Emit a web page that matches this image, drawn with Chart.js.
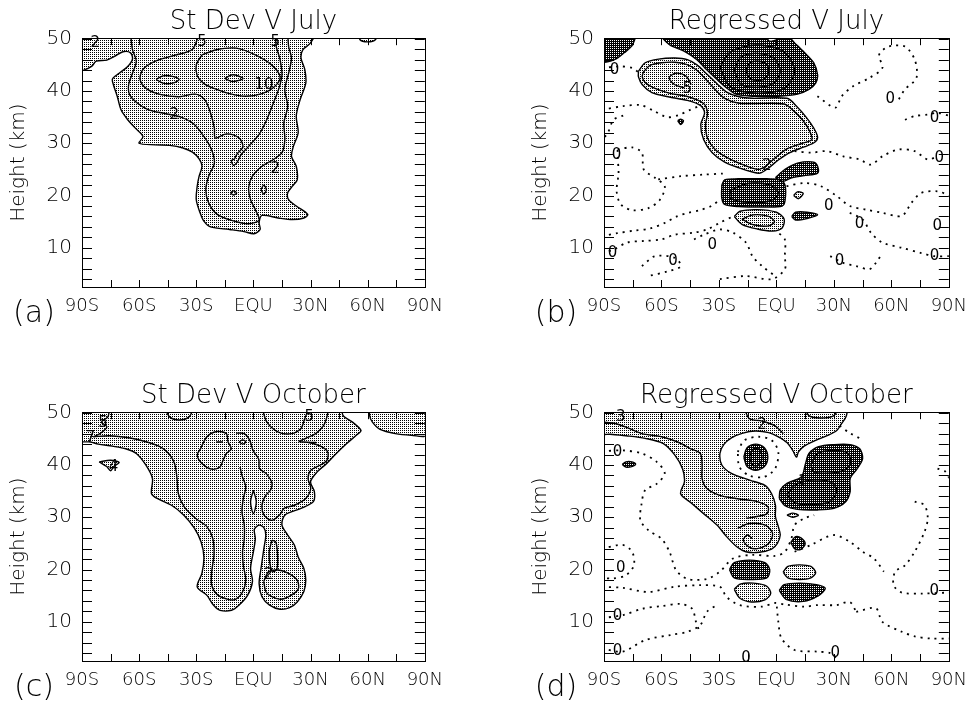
<!DOCTYPE html>
<html>
<head>
<meta charset="utf-8">
<script src="https://cdn.jsdelivr.net/npm/chart.js@4.4.0/dist/chart.umd.min.js"></script>
<style>
  body { margin: 0; background: #fff; width: 979px; height: 713px; overflow: hidden; position: relative; }
  canvas { position: absolute; }
</style>
</head>
<body>
<canvas id="pa" width="452" height="339" style="left:0;top:0"></canvas>
<canvas id="pb" width="454" height="339" style="left:522px;top:0"></canvas>
<canvas id="pc" width="452" height="339" style="left:0;top:374px"></canvas>
<canvas id="pd" width="454" height="339" style="left:522px;top:374px"></canvas>
<script>
// axes
const latTicks = [-90, -60, -30, 0, 30, 60, 90];
const latLabels = ['90S', '60S', '30S', 'EQU', '30N', '60N', '90N'];
const latMinor = [-90, -75, -60, -45, -30, -15, 0, 15, 30, 45, 60, 75, 90];
const heightTicks = [10, 20, 30, 40, 50];
const heightMinor = [4, 6, 8, 10, 12, 14, 16, 18, 20, 22, 24, 26, 28, 30, 32, 34, 36, 38, 40, 42, 44, 46, 48, 50];

// contours are [latitude, height km]
// (a) St Dev V July
const aFill = [[-91,52],[33,52],[30,49.2],[26,47.9],[25,46.3],[27,44.1],[27.5,41.5],[24.5,38.3],[22.5,35.2],[23.5,32],[21,29.4],[20,27.5],[22.5,25.6],[23,23],[20.5,21.8],[18,20.5],[18.5,19.2],[22.5,18],[28.5,16.4],[26.5,15.7],[20.5,15.4],[13,15.7],[4.5,16.2],[3,14.8],[3.5,13.5],[0.3,12.7],[-5,13.1],[-12.5,13.5],[-22.5,14],[-26,15.1],[-28,16.7],[-30,19.2],[-29.5,21.8],[-28.5,23.7],[-27,25.6],[-28.5,27],[-32,28.3],[-37,29.1],[-44,29.6],[-51.5,29.7],[-60,30],[-58,31.3],[-62,32.9],[-66,34.5],[-69.5,36.4],[-71.5,39],[-73.5,41.2],[-74,42.3],[-70.5,43.4],[-66,44.7],[-63.5,46.1],[-64.5,47.3],[-68.5,47.5],[-73,46.6],[-77,45.9],[-82.5,45.7],[-85,44.7],[-89,44],[-91,44],[-91,52]];
const aFillTop = [[55,52],[66,52],[64,49.8],[60,49.4],[56,49.8],[55,52]];
const aLine2 = [[-64.5,51],[-63.5,47.9],[-61.5,45.7],[-63.5,43.4],[-65.5,41.2],[-65,39.3],[-61,37.7],[-55,36.4],[-46.5,35.7],[-38,35],[-31,33.6],[-26,31.3],[-22,28.8],[-20.5,26.2],[-23.5,23.7],[-25,21.1],[-23.5,18.6],[-19,16.4],[-11,15.2],[-2.5,14.6],[3,15.3],[1,17.3],[-1.5,19.2],[-2.5,21.5],[-0.5,23.7],[4.5,25.6],[10.5,26.9],[15,28.2],[16.5,30.7],[16,33.9],[18,37.1],[16.5,40.3],[18.5,43.4],[20,46.3],[18.5,48.5],[18,51]];
const aLine5 = [[-28.5,51],[-32,48],[-41.5,46.8],[-51.5,45.7],[-58,44.1],[-59.5,42.2],[-56,40.4],[-48.5,39.3],[-39,38.9],[-30.5,39.4],[-25.5,38.3],[-22.5,35.8],[-20.5,32.9],[-20,31],[-14,31.8],[-7.5,31],[-5.5,29.3],[-8.5,28],[-10,27],[-11.5,26.7],[-10.5,25.8],[-8.5,26.4],[-6.5,27.8],[-2.5,29.4],[3,31.7],[7,34.5],[10.5,37.7],[13.5,40.6],[15,43.1],[14,46],[12,48.5],[11.5,51]];
const aLine10 = [[-27,46.9],[-19.5,47.9],[-9,48.2],[1,46.9],[9.5,45],[14,42.7],[11,40.8],[4.5,39.5],[-4,39],[-12.5,39.5],[-20,40.4],[-26,41.4],[-29.5,42.9],[-30,45],[-27,46.9]];
const aEyeWest = [[-51,42.2],[-47.5,42.9],[-42.5,42.8],[-39,42.2],[-42.5,41.5],[-47.5,41.5],[-51,42.2]];
const aEyeEast = [[-15,42.4],[-11,43.1],[-5.5,42.4],[-11,41.8],[-15,42.4]];
const aLoop20 = [[-12,20.5],[-10.5,20.9],[-8.8,20.5],[-10.5,20.1],[-12,20.5]];
const aLoop21 = [[4,21.1],[5.4,22],[6.8,21.1],[5.4,20.3],[4,21.1]];
const aText = [[-83,49.2,'2'],[-27,49.3,'5'],[11.5,49.3,'5'],[5.5,41.2,'10'],[-41.5,35.4,'2'],[11.5,25,'2']];

// (b) Regressed V July
const bDarkCorner = [[-91,52],[-73.5,52],[-75,48.9],[-79.5,47.3],[-84.5,46],[-91,45.7],[-91,52]];
const bDarkTop = [[-64,52],[-6.5,52],[-4,49.6],[1,49.9],[4.5,51],[9.5,49.2],[14.5,47.4],[19.5,45.4],[21.5,43.1],[20.5,41.5],[17,40.3],[11,39.4],[1,39],[-12.5,39],[-21,39.4],[-26,40.6],[-31,42.2],[-36.5,44.1],[-41.5,46],[-48,47.6],[-56,48.9],[-64,52]];
const bRing1 = [[-29.5,44.5],[-24,47.5],[-10,48.8],[4,47.5],[9.5,43.8],[4,40.5],[-10,39.6],[-24,40.8],[-29.5,44.5]];
const bRing2 = [[-22,44],[-18.5,46.5],[-10,47.2],[-1.5,46.3],[2,43.8],[-1.5,41.5],[-10,40.7],[-18.5,41.3],[-22,44]];
const bRing3 = [[-16,43.8],[-14,45.3],[-10,45.7],[-5,45.1],[-4,43.6],[-6,42.4],[-10,42],[-14,42.5],[-16,43.8]];
const bLight = [[-72,43.8],[-68.5,45.4],[-61.5,46.1],[-53,46.3],[-46.5,46],[-41.5,45],[-36.5,43.3],[-31,41.4],[-26,39.8],[-19.5,38.9],[-12.5,38.6],[5.5,38.6],[10.5,37.1],[15.5,35],[19.5,32.9],[21.5,31.2],[20,30.2],[14.5,29.3],[7,28.2],[1,26.8],[-4,25.3],[-8.5,24.3],[-12.5,24.5],[-19.5,25.3],[-27,26.4],[-33.5,28.2],[-38,30.7],[-39.5,33.6],[-37.5,35.8],[-39.5,37.2],[-46.5,38.2],[-56.5,38.9],[-65,39.7],[-70,41.2],[-72,42.7],[-72,43.8]];
const bLightLine = [[-69.5,43.6],[-66,44.9],[-60,45.4],[-53,45.5],[-47,45.1],[-42,44.1],[-37,42.3],[-32,40.3],[-27,38.6],[-20,37.7],[-12,37.6],[4,37.5],[9,36.2],[14,34.3],[17.5,32.2],[18.5,30.7],[13.5,30],[6,29],[0,27.4],[-5,25.8],[-9,25],[-13,25.3],[-19.5,26.2],[-26,27.3],[-32,28.8],[-36,31],[-37,33.6],[-36,35.8],[-38,37.6],[-46,38.9],[-56,39.6],[-64,40.6],[-68.5,41.6],[-70,42.7],[-69.5,43.6]];
const bLight5 = [[-44.5,41.2],[-47,42.8],[-52.5,43.4],[-56,42.5],[-53,41.2],[-48,40.6]];
const bDarkMid = [[-28.5,22],[-27,23],[-20,23.2],[-5,23.2],[2,23],[4.5,22],[4.5,19],[3,18],[-5,17.8],[-20,17.9],[-27,18.3],[-28.5,19.5],[-28.5,22]];
const bDarkMid2 = [[-0.5,23.4],[4.5,25],[11,26.2],[19.5,26.4],[21.5,25.6],[21.5,24.3],[14.5,23.8],[8,23.4],[3.5,22.7],[-0.5,23.4]];
const bDarkMidLine = [[-24,21],[-15,22.3],[-3,22],[1,20.5],[-3,19],[-15,18.7],[-24,19.5],[-24,21]];
const bLightLow = [[-22,16],[-19,17],[-10,17.3],[0,16.8],[4,15.5],[3,13.8],[-2,13.2],[-10,13.6],[-18,14.5],[-22,16]];
const bLightLowLine = [[-18,15.5],[-12,16.3],[-4,16],[-1,15],[-4,14.2],[-12,14.4],[-18,15.5]];
const bDarkSmall = [[8,16],[10,16.8],[16,16.8],[21.5,16.3],[16,15.6],[10,15.3],[8,16]];
const bLightSmall = [[9,20],[11,20.7],[14,20.4],[11.5,19.4],[9,20]];
const bDarkDot = [[-51.5,34.3],[-50,34.6],[-48.5,34.3],[-50,33.6],[-51.5,34.3]];
const bZero = [
  [[-91,44.4],[-82,44.7],[-75.3,44.4],[-71.5,43.4]],
  [[-91,36.4],[-80,37.1],[-71,37.3],[-64,36.2],[-57,35],[-51,35.4],[-45,36.4],[-41,37]],
  [[-80,35.3],[-85,34.5],[-88,32],[-91,30.7]],
  [[-82.9,28.8],[-75.3,29.2],[-70.2,28.2],[-69.3,25],[-63.4,23.4],[-58.3,21.8],[-60.8,19.2],[-66.8,17.6],[-75.3,17.2],[-81.2,18.3],[-83.4,20.8],[-82.4,24.3],[-82.9,27.5],[-82.9,28.8]],
  [[-91,12.2],[-83,12.8],[-74,13.3],[-66,13.7],[-58,14.8],[-52,16],[-46,16.7],[-40,17.2],[-34,18],[-29.5,19.2]],
  [[-61.7,23.1],[-49.8,23.7],[-38,24],[-28,24.2]],
  [[-91,9],[-84.7,9.7],[-78,11],[-69.5,11.3],[-60,11.6],[-53.2,12.5],[-43,12.9],[-36.3,13.5],[-29.5,14.8],[-22.7,16]],
  [[-70.2,6.5],[-63.4,8.4],[-53.2,8.1],[-49.8,6.5],[-56.6,5.5],[-66.8,4.6]],
  [[-43,11.6],[-38,12.5],[-29.5,13.5],[-22.7,12.9],[-15.9,11],[-12.5,8.4],[-7.5,6.5],[-0.7,4.6]],
  [[21.4,39],[30.7,36.8],[34.1,39],[40,40.9],[48.5,42.5],[55.3,44.4],[53.6,46.9],[58.6,48.5],[67.1,48.5],[72.2,46],[73.1,42.5],[67.1,40.3],[63.7,38.3]],
  [[9.5,28.5],[18,28.2],[26.4,28.5],[34.9,27.5],[43.4,26.9],[49.3,25.9],[55.3,27.5],[63.7,28.8],[72.2,28.5],[79,26.9],[84.1,27.5]],
  [[67.1,34.5],[72.2,35.2],[79,35.5],[84.1,35.8],[91,35.2]],
  [[5.3,21.8],[14.6,22.4],[23.1,21.8],[31.5,19.9],[38.3,18],[46.8,17.3],[55.3,16.7],[65.4,16.1],[70.5,18.6],[75.6,20.5],[84.1,20.8],[91,19.9]],
  [[38.3,16.7],[45.1,15.4],[49.3,12.9],[55.3,11],[65.4,10],[75.6,9],[82.4,8.4],[91,8.4]],
  [[28.1,8.4],[34.9,7.1],[41.7,6.5],[48.5,5.9],[51.9,7.1],[55.3,9]],
  [[-29.5,4],[-15.9,4.6],[-2.4,4],[4.4,5.9],[4.4,8.4],[4.4,11.6],[1,12.9]]
];
const bText = [[-46.5,40.3,'5'],[-84.5,44,'0'],[-83.5,27.8,'0'],[-85.5,9,'0'],[-54,7.5,'0'],[-33.5,10.6,'0'],[27.3,18,'0'],[43.4,14.6,'0'],[33,7.5,'0'],[59.5,38.5,'0'],[82.5,34.8,'0'],[85,27.2,'0'],[84,14.1,'0'],[82.5,8.4,'0'],[-5,25.6,'2']];

// (c) St Dev V October
const cFill = [[-91,52],[45.5,52],[47,49.5],[52,48.2],[56.5,46.6],[54,45.7],[49,44.1],[43.5,42.2],[38.5,40.3],[33.5,38.7],[30,36.8],[32,34.9],[31.5,33],[25,31.7],[16.5,30.4],[15,28.5],[18,26.6],[21.5,24.7],[23.5,22.4],[26.5,20.2],[27.5,18],[26.5,15.8],[23,13.8],[19,12.7],[14,12.4],[8.5,13.2],[4.5,14.8],[3,17.3],[4,20.2],[5.5,24],[6.5,26.6],[5.5,28],[3,28.5],[0.5,27.7],[1,25.9],[0,23.4],[-1.5,20.2],[-0.5,17.7],[-3,15.1],[-7.5,13.2],[-11.5,12.2],[-17.5,12.2],[-21,13.2],[-24.5,15.1],[-29.5,16.7],[-27,19.3],[-26,22.4],[-27.5,25.3],[-31,27.9],[-36.5,30.4],[-43,32.3],[-50,33.5],[-53.5,34.5],[-53,37.4],[-56.5,40],[-61.5,42.2],[-67,43.1],[-74,43.6],[-81.5,44],[-85.5,44.4],[-91,44.7],[-91,52]];
const cFillNE = [[61,52],[91,52],[91,45.7],[83,45.7],[74.5,46],[66.5,46.8],[62.5,48.2],[61,49.5],[61,52]];
const cFeather = [[-81,40.6],[-75,40.9],[-70.5,40.5],[-73,39.8],[-75,38.9],[-77,39.7],[-81,40.6]];
const cHole = [[0,35.2],[1.5,32.9],[0,30.7],[-1.5,32.9],[0,35.2]];
const cLineS = [[-75.5,51],[-76.4,49.2],[-79.8,48.2],[-76.9,47.3],[-80.6,46],[-84,45.4]];
const cLine1 = [[-84,45.4],[-75.5,45.6],[-65.3,45.2],[-55.9,44.4],[-49.1,43.5],[-44.5,42.2],[-41.4,40.3],[-40.1,37.4],[-39.4,34.5],[-36.3,32],[-30.4,29.8],[-24.4,28.2],[-21.3,25.9],[-20.7,22.8],[-21.9,19.6],[-21.9,17],[-19,15.2],[-13.3,14.3],[-9.4,14.3],[-5.7,15.7],[-4,18],[-5.3,20.8],[-5.7,23.4],[-4.8,25.9],[-4.8,28.5],[-6,31],[-5.3,33.6],[-4,35.8],[-6,38],[-7,39.6]];
const cLine2 = [[-9.1,46.1],[-4.8,46],[-1.9,44.7],[-0.2,42.8],[2.8,41.1],[3.2,39.3],[6.6,38.4],[9.7,36.6],[9,35.2],[6.3,34.1],[4.5,32.3],[5.6,30.4],[9.7,29.4],[13.9,30.5],[16.1,31.7],[21.6,32.3],[27.5,33.6],[30.1,35.5],[28.7,37.4],[30.1,39],[35.2,40],[38.6,40.9],[39,42.5],[35.2,43.6],[29.3,44.3],[24.1,44.5],[27.5,45.1],[32.7,46],[36.9,47.6],[38.6,49.2],[39.5,51]];
const cTongue = [[9.7,25.6],[11.7,25.3],[12.7,22.8],[12.4,20.2],[10.5,19.6],[8.8,20.8],[8.3,23.4],[9.7,25.6]];
const cLoopSE = [[5.4,17.7],[8,19.6],[13.1,19.9],[18.2,19.3],[22.9,18],[23.6,16.3],[19.5,15],[14.4,14.3],[9.7,14.8],[6.6,15.7],[5.4,17.7]];
const cLobe = [[-27.8,43.1],[-24.4,45.4],[-19.3,46.4],[-14.2,46],[-13.3,44.4],[-11.6,43.1],[-14.2,42.2],[-15.9,40.9],[-17.6,39.6],[-21.9,39.2],[-27,40.3],[-29.5,41.9],[-27.8,43.1]];
const cCupWest = [[-46.6,51],[-44,49.2],[-38.9,48.6],[-33.8,49.2],[-31.2,51]];
const cCupEast = [[4.5,51],[7.1,48.2],[13.1,46.3],[19.9,46],[25,47],[26.7,48.6],[29.2,51]];
const cDash1 = [[-19.5,44.4],[-16,44.4]];
const cDash2 = [[-7.5,44.4],[-5.7,44.8],[-4,44.4],[-5.7,44],[-7.5,44.4]];
const cDash3 = [[29,44.3],[33,44.3]];
const cText = [[-79,48,'5'],[-85.5,45.2,'7'],[-73.5,39.6,'4'],[29.3,49.1,'5'],[8,19,'2']];

// (d) Regressed V October
const dLight = [[-91,52],[36.5,52],[36.5,49.4],[34,47.9],[31.5,46.6],[26.5,45.6],[20.5,44.7],[14.5,43.6],[11.5,42.5],[10.5,41.5],[8.5,42.8],[5.5,44.3],[1,45.4],[-4,46.2],[-11,46.5],[-17.5,46.1],[-23.5,45.2],[-27.5,43.9],[-29.5,42.2],[-28.5,40],[-23.5,38.4],[-14,37.1],[-6,36.1],[-2.5,34.5],[-0.5,32.3],[-0.5,30.1],[1,28.2],[2,26.6],[0.5,25],[-2.5,23.9],[-9,23.3],[-16,23.4],[-20.5,24.3],[-26,26.3],[-31,28.5],[-38,30.7],[-44,32.6],[-50,34.5],[-48,36.8],[-49,39.3],[-53,41.9],[-59,44.1],[-68.5,45.1],[-78.5,45.6],[-87,45.9],[-91,46],[-91,52]];
const dLine1 = [[-91,48.2],[-83.7,47.9],[-76.9,47],[-70.2,46],[-60,45.4],[-51.5,44.4],[-44.7,43.1],[-39.7,42.2],[-38.8,40],[-38.8,37.4],[-36.3,35.5],[-29.5,34.2],[-19.3,33.5],[-10,33],[-4.4,32],[-4.9,30.7],[-10.8,30.1],[-15.9,29.8]];
const dLobeLine = [[-20.2,27.9],[-14.2,28.8],[-5.8,28.5],[-2,26.9],[-4.1,25],[-10,24],[-14.2,24.3],[-17.3,25.6],[-15.1,26.6],[-12.5,25.9]];
const dTop2 = [[-16.8,51],[-14.2,48.9],[-7.5,48.4],[-0.7,47.5],[3.6,46]];
const dTopCup = [[14.6,51],[17.1,49.4],[23.1,49],[29.8,49.4],[32.9,51]];
const dCircle = [[-17,41.5],[-15.3,43.3],[-10.8,44],[-6.3,43.3],[-4.5,41.5],[-6.3,39.7],[-10.8,39],[-15.3,39.7],[-17,41.5]];
const dCircleIn = [[-14,41.5],[-12.8,42.8],[-10.8,43.2],[-8.6,42.8],[-7.6,41.5],[-8.6,40.2],[-10.8,39.8],[-12.8,40.2],[-14,41.5]];
const dDarkEast = [[1.5,33.6],[2,35.2],[5.5,36.5],[13,37.7],[15,40],[17,42.2],[22,43.5],[30,43.9],[38.5,43.9],[43.5,43.1],[45,41.2],[42,39.2],[38.5,37.4],[38.5,34.9],[36,32.9],[30,31.7],[21.5,31.4],[11,31.5],[4.5,32.2],[1.5,33.6]];
const dEastIn1 = [[18,40],[21.5,42.2],[30,42.8],[37.5,42.2],[38.5,40],[33,38.7],[24.5,38.4],[19.5,38.7],[18,40]];
const dEastIn2 = [[5.5,34.2],[9.5,36.1],[18,37.1],[28,36.8],[31.5,35.2],[28,33],[18,32.4],[9.5,32.8],[5.5,34.2]];
const dDarkWest = [[-80.5,40.1],[-78.5,40.6],[-75.5,40.6],[-73.5,40.2],[-75.5,39.7],[-78.5,39.6],[-80.5,40.1]];
const dLightTiny = [[5.5,30.4],[8.5,30.8],[11.5,30.4],[8.5,30],[5.5,30.4]];
const dDarkDiamond = [[7.5,25.2],[10,26.3],[13,26],[15,24.9],[12.5,23.8],[9.5,24],[7.5,25.2]];
const dDarkSW = [[-24.5,20],[-22,21.3],[-14,21.8],[-6,21.3],[-3.5,20],[-5,18.4],[-14,18.1],[-22,18.4],[-24.5,20]];
const dLightSW = [[-22,16.2],[-19,17.2],[-12,17.4],[-5,16.8],[-3,15.4],[-6,14.2],[-13,13.8],[-19,14.5],[-22,16.2]];
const dLightSE = [[3.5,19.5],[6,20.6],[12,20.9],[18,20.6],[20.5,19.4],[18,18.4],[12,18.1],[6,18.4],[3.5,19.5]];
const dDarkSE = [[1.5,16],[4,17.1],[12,17.4],[21,17.1],[25.5,16.4],[22,15],[14,13.9],[5,14.3],[1.5,16]];
const dZero = [
  [[-20.2,42.5],[-16.8,44.7],[-9.2,45.4],[-2.4,44.7],[1,42.5],[-0.7,39.3],[-6.6,37.7],[-14.2,38],[-19.3,39.6],[-20.2,42.5]],
  [[-91,42.6],[-80.3,42.8],[-70.2,42.2],[-62.5,40.6],[-58.3,38.4],[-62.5,36.4],[-68.5,35.2],[-70.5,32.3],[-71,29.4],[-66.8,27.5],[-60,25.9],[-55.8,23.4],[-52.4,19.9],[-46.4,18.2],[-36.3,18.2],[-29.5,19.6],[-22.7,22.1],[-12.5,22.8],[-0.7,22.6],[4.4,23.4],[7.8,25.9],[9.5,28.5],[14.6,29.8],[19.7,30.4]],
  [[9.5,23.4],[18,24.7],[29.8,26.6],[38.3,25.3],[45.1,23.4],[51,22.1],[56.1,19.6]],
  [[72.2,33],[77.3,32.3],[79,29.8],[77.3,27.2],[72.2,23.4],[67.1,20.8],[62,19.6],[61.2,17],[65.4,15.6],[75.6,15.4],[90,15.6]],
  [[84.1,39.3],[88.3,38.7],[91,36.8]],
  [[-91,24],[-80.3,24.7],[-75.3,23.4],[-74.4,20.8],[-78.6,18.9],[-85.4,18.3],[-91,18.4]],
  [[-91,16.7],[-80.3,16.5],[-66.8,15.7],[-53.2,16.7],[-39.7,17],[-29.5,16.7],[-26.1,14.8],[-19.3,13.2],[-7.5,12.9],[-0.7,13.6],[4.4,13.3],[14.6,12.9],[21.4,13.2],[31.5,13.2],[38.3,13.8],[41.7,11.9]],
  [[-91,10.7],[-80,11.3],[-70,12.5],[-60,13],[-50,13.4],[-44,12.5],[-42,10],[-40,8]],
  [[-91,4.9],[-80.3,4.3],[-68.5,6.5],[-54.9,7.5],[-46.4,8.1],[-39.7,9.4],[-36.3,11.9],[-31.2,13.2]],
  [[0.2,12.9],[1,10],[2.7,6.8],[9.5,4.6],[21.4,4.3],[28.1,4],[31.5,3]],
  [[41.7,11.9],[51.9,12.6],[55.3,10],[65.4,8.1],[72.2,7.2],[80.7,6.8],[90,6.8]],
  [[33,47.5],[38,46.2],[44,45]]
];
const dText = [[-82.9,42.5,'0'],[-81.2,20.2,'0'],[-82.9,11,'0'],[-82.9,4.3,'0'],[-15.9,3,'0'],[30.7,4,'0'],[82.4,15.8,'0'],[-7.5,47.6,'2'],[13.7,36.8,'1'],[-81.2,49.2,'3']];

const FONT = "'DejaVu Sans', sans-serif";
Chart.defaults.font.family = FONT;
Chart.defaults.color = '#000';

function stipple(dark) {
  const c = document.createElement('canvas');
  c.width = 2; c.height = 2;
  const g = c.getContext('2d');
  g.fillStyle = dark ? '#000' : '#fff';
  g.fillRect(0, 0, 2, 2);
  g.fillStyle = dark ? '#fff' : '#000';
  g.fillRect(0, 0, 1, 1);
  return g.createPattern(c, 'repeat');
}
const LIGHT = stipple(false);
const DARK = stipple(true);

const pts = arr => arr.map(([x, y]) => ({ x, y }));
function area(arr, bg) {
  return { data: pts(arr), showLine: true, fill: 'shape', backgroundColor: bg, borderColor: '#000',
    borderWidth: 1.4, pointRadius: 0, pointHoverRadius: 0, tension: 0.3, clip: 0 };
}
function line(arr) {
  return { data: pts(arr), showLine: true, fill: false, borderColor: '#000',
    borderWidth: 1.4, pointRadius: 0, pointHoverRadius: 0, tension: 0.3, clip: 0 };
}
function zero(arr) {
  const d = line(arr);
  d.borderDash = [2, 5];
  d.borderWidth = 1.8;
  return d;
}

// frame, inward ticks, contour labels and panel letter
function decor(tag, texts) {
  return {
    id: 'decor',
    afterDatasetsDraw(chart) {
      const { ctx, chartArea: a, scales: { x, y } } = chart;
      ctx.save();
      ctx.strokeStyle = '#000';
      ctx.lineWidth = 1;
      ctx.strokeRect(Math.round(a.left) + 0.5, Math.round(a.top) + 0.5, Math.round(a.right - a.left), Math.round(a.bottom - a.top));
      ctx.beginPath();
      latMinor.forEach(v => {
        const px = Math.round(x.getPixelForValue(v)) + 0.5;
        ctx.moveTo(px, a.bottom); ctx.lineTo(px, a.bottom - 7);
        ctx.moveTo(px, a.top); ctx.lineTo(px, a.top + 7);
      });
      heightMinor.forEach(v => {
        const py = Math.round(y.getPixelForValue(v)) + 0.5;
        ctx.moveTo(a.left, py); ctx.lineTo(a.left + 10, py);
        ctx.moveTo(a.right, py); ctx.lineTo(a.right - 10, py);
      });
      ctx.stroke();
      ctx.fillStyle = '#000';
      ctx.textAlign = 'center';
      ctx.textBaseline = 'middle';
      ctx.font = '15px ' + FONT;
      texts.forEach(([lat, h, s]) => ctx.fillText(s, x.getPixelForValue(lat), y.getPixelForValue(h)));
      ctx.font = '200 30px ' + FONT;
      ctx.fillText(tag, a.left - 48, a.bottom + 27);
      ctx.restore();
    }
  };
}

function panel(id, title, tag, sets, texts) {
  sets.forEach((d, i) => { d.order = -i; });
  return new Chart(document.getElementById(id), {
    type: 'scatter',
    data: { datasets: sets },
    options: {
      responsive: false,
      animation: false,
      events: [],
      layout: { padding: { left: 0, right: 18, top: 0, bottom: 0 } },
      plugins: {
        legend: { display: false },
        tooltip: { enabled: false },
        title: { display: true, text: title, fullSize: false, color: '#000',
          font: { family: FONT, size: 26, weight: '200' }, padding: { top: 7, bottom: 0 } }
      },
      scales: {
        x: {
          type: 'linear', min: -90, max: 90,
          grid: { display: false, drawTicks: false }, border: { display: false },
          afterBuildTicks: s => { s.ticks = latTicks.map(v => ({ value: v })); },
          afterFit: s => { s.height = 52; },
          ticks: { callback: v => latLabels[latTicks.indexOf(v)], autoSkip: false, maxRotation: 0,
            padding: 9, font: { family: FONT, size: 18, weight: '200' } }
        },
        y: {
          type: 'linear', min: 2.5, max: 50.1,
          grid: { display: false, drawTicks: false }, border: { display: false },
          afterBuildTicks: s => { s.ticks = heightTicks.map(v => ({ value: v })); },
          afterFit: s => { s.width = 82; },
          ticks: { padding: 10, font: { family: FONT, size: 20, weight: '200' } },
          title: { display: true, text: 'Height (km)', font: { family: FONT, size: 20, weight: '200' },
            padding: { top: 7, bottom: 0 } }
        }
      }
    },
    plugins: [decor(tag, texts)]
  });
}

panel('pa', 'St Dev V July', '(a)', [
  area(aFill, LIGHT), area(aFillTop, LIGHT),
  line(aLine2), line(aLine5), line(aLine10), line(aEyeWest), line(aEyeEast), line(aLoop20), line(aLoop21)
], aText);

panel('pb', 'Regressed V July', '(b)', [
  area(bLight, LIGHT), line(bLightLine), line(bLight5),
  area(bDarkCorner, DARK), area(bDarkTop, DARK), line(bRing1), line(bRing2), line(bRing3),
  area(bDarkMid, DARK), area(bDarkMid2, DARK), line(bDarkMidLine),
  area(bLightLow, LIGHT), line(bLightLowLine), area(bDarkSmall, DARK), area(bLightSmall, LIGHT), area(bDarkDot, DARK),
  ...bZero.map(zero)
], bText);

panel('pc', 'St Dev V October', '(c)', [
  area(cFill, LIGHT), area(cFillNE, LIGHT), area(cFeather, LIGHT), area(cHole, '#fff'),
  line(cLineS), line(cLine1), line(cLine2), line(cTongue), line(cLoopSE), line(cLobe),
  line(cCupWest), line(cCupEast), line(cDash1), line(cDash2), line(cDash3)
], cText);

panel('pd', 'Regressed V October', '(d)', [
  area(dLight, LIGHT), line(dLine1), line(dLobeLine), line(dTop2), line(dTopCup),
  area(dCircle, DARK), line(dCircleIn), area(dDarkEast, DARK), line(dEastIn1), line(dEastIn2),
  area(dDarkWest, DARK), area(dLightTiny, LIGHT), area(dDarkDiamond, DARK),
  area(dDarkSW, DARK), area(dLightSW, LIGHT), area(dLightSE, LIGHT), area(dDarkSE, DARK),
  ...dZero.map(zero)
], dText);
</script>
</body>
</html>
